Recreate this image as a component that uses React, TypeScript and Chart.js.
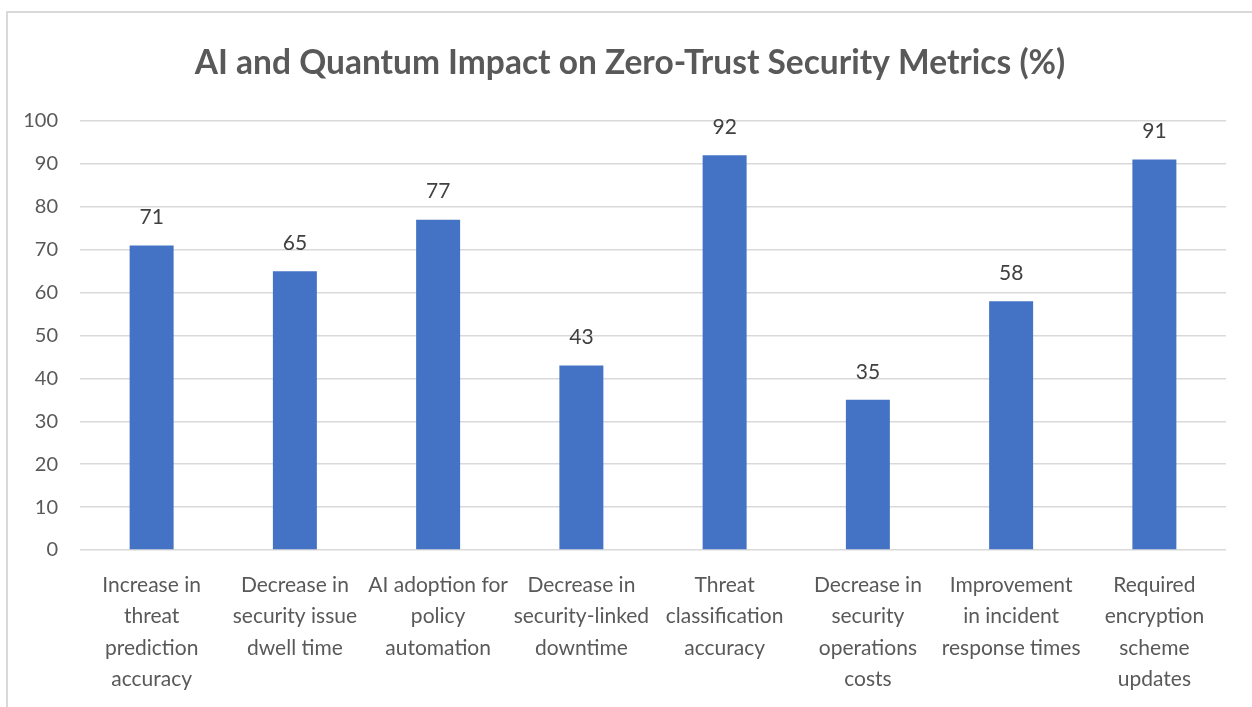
import React, { useEffect, useRef } from "react";
import { Chart, registerables } from "chart.js";

Chart.register(...registerables);

const TITLE = "AI and Quantum Impact on Zero-Trust Security Metrics (%)";

const categories: string[][] = [
  ["Increase in", "threat", "prediction", "accuracy"],
  ["Decrease in", "security issue", "dwell time"],
  ["AI adoption for", "policy", "automation"],
  ["Decrease in", "security-linked", "downtime"],
  ["Threat", "classification", "accuracy"],
  ["Decrease in", "security", "operations", "costs"],
  ["Improvement", "in incident", "response times"],
  ["Required", "encryption", "scheme", "updates"],
];

const values: number[] = [71, 65, 77, 43, 92, 35, 58, 91];

const yMin = 0;
const yMax = 100;
const yStep = 10;

const FONT = "Lato, 'Open Sans', sans-serif";
const TEXT_COLOR = "#595959";
const BAR_COLOR = "#4472C4";
const GRID_COLOR = "#D9D9D9";

const framePlugin = {
  id: "frame",
  beforeDraw(chart: any) {
    const ctx = chart.ctx;
    ctx.save();
    ctx.fillStyle = "#ffffff";
    ctx.fillRect(0, 0, chart.width, chart.height);
    ctx.strokeStyle = GRID_COLOR;
    ctx.lineWidth = 2;
    ctx.beginPath();
    ctx.moveTo(7, chart.height);
    ctx.lineTo(7, 12);
    ctx.lineTo(chart.width, 12);
    ctx.stroke();
    ctx.restore();
  },
};

const valueLabelPlugin = {
  id: "valueLabels",
  afterDatasetsDraw(chart: any) {
    const ctx = chart.ctx;
    const meta = chart.getDatasetMeta(0);
    ctx.save();
    ctx.font = `21px ${FONT}`;
    ctx.fillStyle = "#404040";
    ctx.textAlign = "center";
    ctx.textBaseline = "middle";
    meta.data.forEach((bar: any, i: number) => {
      ctx.fillText(String(values[i]), bar.x, bar.y - 28);
    });
    ctx.restore();
  },
};

export default function App() {
  const canvasRef = useRef<HTMLCanvasElement | null>(null);

  useEffect(() => {
    if (!canvasRef.current) return;
    const chart = new Chart(canvasRef.current, {
      type: "bar",
      data: {
        labels: categories,
        datasets: [
          {
            data: values,
            backgroundColor: BAR_COLOR,
            borderWidth: 0,
            barPercentage: 0.307,
            categoryPercentage: 1,
          },
        ],
      },
      options: {
        responsive: false,
        animation: false,
        layout: { padding: { top: 0, left: 8, right: 0, bottom: 0 } },
        plugins: {
          legend: { display: false },
          tooltip: { enabled: false },
          title: {
            display: true,
            text: TITLE,
            color: TEXT_COLOR,
            font: { family: FONT, size: 33.5, weight: "bold" },
            padding: { top: 43, bottom: 37.8 },
          },
        },
        scales: {
          x: {
            grid: { display: false, drawTicks: false },
            border: { display: false },
            ticks: {
              color: TEXT_COLOR,
              font: { family: FONT, size: 21, lineHeight: 1.5 },
              padding: 19,
              maxRotation: 0,
              autoSkip: false,
            },
            afterFit(scale: any) {
              scale.height = 157;
            },
          },
          y: {
            min: yMin,
            max: yMax,
            grid: {
              color: GRID_COLOR,
              lineWidth: 1.5,
              drawTicks: false,
            },
            border: { display: false },
            ticks: {
              stepSize: yStep,
              color: TEXT_COLOR,
              font: { family: FONT, size: 20 },
              padding: 22,
            },
            afterFit(scale: any) {
              scale.width = 72;
            },
          },
          yRight: {
            position: "right",
            display: true,
            min: yMin,
            max: yMax,
            grid: { display: false, drawTicks: false },
            border: { display: false },
            ticks: { display: false },
            afterFit(scale: any) {
              scale.width = 26;
            },
          },
        },
      },
      plugins: [framePlugin, valueLabelPlugin],
    });
    return () => chart.destroy();
  }, []);

  return (
    <div style={{ position: "absolute", left: 0, top: 0, width: 1252, height: 707 }}>
      <canvas ref={canvasRef} width={1252} height={707} />
    </div>
  );
}
